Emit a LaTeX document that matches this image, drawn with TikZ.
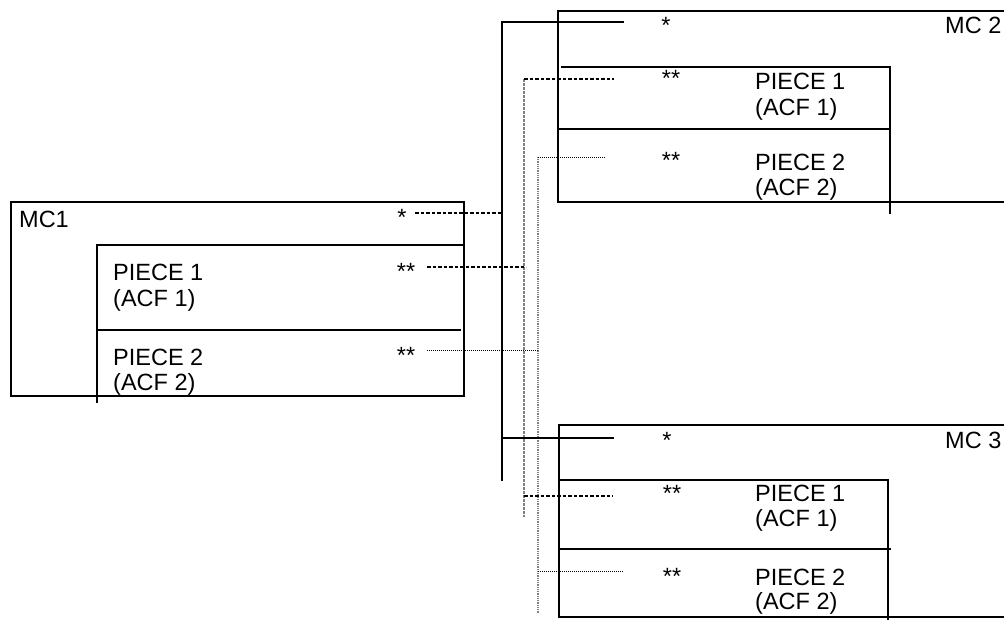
\documentclass[tikz,border=0pt]{standalone}
\usepackage{fontspec}
\setmainfont{Liberation Sans}
\begin{document}
\begin{tikzpicture}[x=1pt,y=-1pt,
  boxline/.style={line width=2.3pt, line cap=rect},
  busline/.style={line width=2.8pt},
  dashconn/.style={line width=1.1pt, dash pattern=on 3.5pt off 2pt},
  dashbus/.style={line width=1.7pt, gray, dash pattern=on 3pt off 1pt},
  dotconn/.style={line width=0.9pt, dash pattern=on 1pt off 1pt},
  dotbus/.style={line width=1.2pt, gray, dash pattern=on 1pt off 0.8pt},
  lbl/.style={inner sep=0pt, anchor=base west, font=\fontsize{23.5}{24}\selectfont},
  starlbl/.style={inner sep=0pt, anchor=base, font=\fontsize{23.5}{24}\selectfont}]
\useasboundingbox (0,0) rectangle (1004,620);

% ---------- MC1 ----------
\draw[boxline] (11,202) rectangle (464,396);
\draw[boxline] (462,245) -- (97,245) -- (97,402);
\draw[boxline] (97,330) -- (460,330);
\node[lbl] (mc1) at (19,228) {MC1};
\node[lbl] (m1p1) at (113,281) {PIECE 1};
\node[lbl] (m1a1) at (113,306.5) {(ACF 1)};
\node[lbl] (m1p2) at (113,365) {PIECE 2};
\node[lbl] (m1a2) at (113,390) {(ACF 2)};
\node[starlbl] (m1s) at (402,226) {*};
\node[starlbl] (m1ss1) at (406,280) {**};
\node[starlbl] (m1ss2) at (406,363) {**};

% ---------- MC2 ----------
\draw[boxline] (1004,11) -- (558,11) -- (558,202) -- (1004,202);
\draw[boxline] (562,67) -- (890,67) -- (890,213);
\draw[boxline] (558,129) -- (888,129);
\node[lbl] (mc2) at (945,34) {MC 2};
\node[lbl] (m2p1) at (755,90) {PIECE 1};
\node[lbl] (m2a1) at (755,115.5) {(ACF 1)};
\node[lbl] (m2p2) at (755,171) {PIECE 2};
\node[lbl] (m2a2) at (755,196) {(ACF 2)};
\node[starlbl] (m2s) at (666,34) {*};
\node[starlbl] (m2ss1) at (671,87) {**};
\node[starlbl] (m2ss2) at (671,169) {**};

% ---------- MC3 ----------
\draw[boxline] (1004,425) -- (559,425) -- (559,617) -- (1004,617);
\draw[boxline] (559,480) -- (888,480) -- (888,622);
\draw[boxline] (559,549) -- (890,549);
\node[lbl] (mc3) at (945,448) {MC 3};
\node[lbl] (m3p1) at (755,501) {PIECE 1};
\node[lbl] (m3a1) at (755,526.5) {(ACF 1)};
\node[lbl] (m3p2) at (755,585) {PIECE 2};
\node[lbl] (m3a2) at (755,609) {(ACF 2)};
\node[starlbl] (m3s) at (667,448) {*};
\node[starlbl] (m3ss1) at (672,501) {**};
\node[starlbl] (m3ss2) at (672,584) {**};

% ---------- connector end points ----------
\coordinate (c1a) at (415,213);   \coordinate (b1a) at (502,213);
\coordinate (c2a) at (427,267);   \coordinate (b2a) at (526,267);
\coordinate (c3a) at (427,350);   \coordinate (b3a) at (538,350);
\coordinate (t1) at (624,22);     \coordinate (k1) at (502,22);  \coordinate (e1) at (502,481);
\coordinate (t2) at (614,79);     \coordinate (k2) at (524,79);  \coordinate (e2) at (524,517);
\coordinate (t3) at (605,157);    \coordinate (k3) at (538,157); \coordinate (e3) at (538,613);
\coordinate (u1) at (614,438);    \coordinate (j1) at (502,438);
\coordinate (u2) at (613,496);    \coordinate (j2) at (524,496);
\coordinate (u3) at (623,571);    \coordinate (j3) at (538,571);

% buses
\draw[dashbus] (k2) -- (e2);
\draw[dotbus] (k3) -- (e3);
\draw[busline] (t1) -- (k1) -- (e1);
\draw[busline] (j1) -- (u1);

% connectors
\draw[dashconn] (c1a) -- (b1a);
\draw[dashconn] (c2a) -- (b2a);
\draw[dotconn] (c3a) -- (b3a);
\draw[dashconn] (k2) -- (t2);
\draw[dotconn] (k3) -- (t3);
\draw[dashconn] (j2) -- (u2);
\draw[dotconn] (j3) -- (u3);
\end{tikzpicture}
\end{document}
